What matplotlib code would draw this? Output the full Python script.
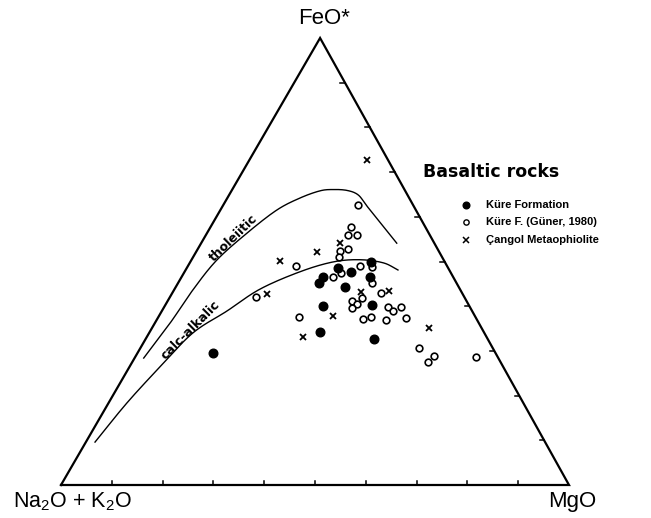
import numpy as np
import matplotlib
matplotlib.use("Agg")
import matplotlib.pyplot as plt

plt.rcParams["mathtext.fontset"] = "custom"
plt.rcParams["mathtext.rm"] = "Liberation Sans"
plt.rcParams["mathtext.it"] = "Liberation Sans"

# ---- AFM data (wt %): alkalis (Na2O+K2O), FeO*, MgO ----
kure_feo = [50.0, 48.6, 47.6, 46.6, 45.1, 46.5, 44.4, 40.0, 40.3, 34.3, 32.6, 29.6]
kure_mgo = [35.5, 29.8, 32.8, 27.9, 27.8, 37.1, 33.3, 31.2, 40.6, 33.5, 45.0, 14.9]
kure_alk = [14.5, 21.6, 19.6, 25.5, 27.1, 16.4, 22.3, 28.8, 19.1, 32.2, 22.4, 55.5]

guner_feo = [57.7, 55.9, 55.9, 52.4, 52.8, 50.9, 49.1, 49.1, 48.8, 47.4, 46.6, 45.1,
             42.0, 43.0, 41.2, 41.8, 40.4, 39.5, 39.9, 38.9, 39.9, 37.5, 37.1, 37.5,
             36.9, 37.3, 30.6, 27.6, 28.9, 28.6, 62.6]
guner_mgo = [27.6, 27.9, 29.7, 28.1, 29.6, 28.8, 21.2, 33.8, 36.4, 30.9, 29.7, 38.3,
             16.9, 41.0, 36.2, 38.0, 37.6, 37.1, 44.0, 45.5, 46.6, 27.7, 40.6, 41.9,
             45.1, 48.9, 54.9, 58.1, 58.6, 67.2, 26.6]
guner_alk = [14.7, 16.2, 14.4, 19.5, 17.6, 20.3, 29.7, 17.1, 14.8, 21.7, 23.7, 16.6,
             41.1, 16.0, 22.6, 20.2, 22.0, 23.4, 16.1, 15.6, 13.5, 34.8, 22.3, 20.6,
             18.0, 13.8, 14.5, 14.3, 12.5, 4.2, 10.8]

cangol_feo = [72.7, 50.2, 52.1, 54.2, 42.7, 43.2, 43.5, 37.7, 33.0, 35.2]
cangol_mgo = [23.2, 17.5, 23.8, 27.3, 18.8, 37.1, 42.4, 34.4, 30.9, 54.5]
cangol_alk = [4.1, 32.3, 24.1, 18.5, 38.5, 19.7, 14.1, 27.9, 36.1, 10.3]

# Boundary curves between the tholeiitic and calc-alkaline fields
thol_feo = [28.4, 36.2, 43.6, 50.3, 56.4, 61.5, 64.2, 65.8, 66.1, 65.9, 64.9, 62.4, 58.8, 54.1]
thol_mgo = [1.8, 3.0, 3.7, 5.0, 7.9, 11.1, 14.3, 17.4, 19.8, 22.7, 25.4, 28.4, 32.8, 38.5]
thol_alk = [69.8, 60.8, 52.7, 44.7, 35.7, 27.4, 21.5, 16.8, 14.1, 11.4, 9.7, 9.2, 8.4, 7.4]

calc_feo = [9.6, 18.3, 26.4, 34.0, 38.9, 43.8, 47.7, 49.9, 50.4, 49.7, 48.1]
calc_mgo = [1.8, 3.6, 6.0, 8.6, 12.8, 16.8, 22.7, 28.1, 33.1, 38.1, 41.8]
calc_alk = [88.6, 78.1, 67.6, 57.4, 48.3, 39.4, 29.6, 22.0, 16.5, 12.2, 10.1]

legend_labels = ["Küre Formation", "Küre F. (Güner, 1980)", "Çangol Metaophiolite"]
APEX_X = 0.51  # horizontal position of the FeO* apex along the base


def to_xy(alk, feo, mgo):
    a, f, m = (np.asarray(v, float) for v in (alk, feo, mgo))
    s = a + f + m
    f, m = f / s, m / s
    return m + APEX_X * f, f


def smooth(x, y, n=20):
    """Catmull-Rom spline through the given vertices."""
    p = np.column_stack([x, y])
    p = np.vstack([2 * p[0] - p[1], p, 2 * p[-1] - p[-2]])
    out = []
    t = np.linspace(0, 1, n, endpoint=False)[:, None]
    for i in range(1, len(p) - 2):
        p0, p1, p2, p3 = p[i - 1], p[i], p[i + 1], p[i + 2]
        seg = 0.5 * ((2 * p1) + (-p0 + p2) * t + (2 * p0 - 5 * p1 + 4 * p2 - p3) * t ** 2
                     + (-p0 + 3 * p1 - 3 * p2 + p3) * t ** 3)
        out.append(seg)
    out.append(p[-2][None, :])
    out = np.vstack(out)
    return out[:, 0], out[:, 1]


W, H = 651, 518
fig = plt.figure(figsize=(W / 100, H / 100), dpi=100)
ax = fig.add_axes([61 / W, 33 / H, 508 / W, 447 / H])
ax.set_xlim(0, 1)
ax.set_ylim(0, 1)
ax.axis("off")

# triangle frame
ax.plot([0, 1, APEX_X, 0], [0, 0, 1, 0], color="black", lw=1.6, clip_on=False,
        solid_joinstyle="miter")

# 10 % ticks on the base (pointing up) and on the MgO-FeO* side (pointing in)
for k in range(1, 10):
    v = k / 10
    ax.plot([v, v], [0, 0.009], color="black", lw=1.1)
    xe, ye = to_xy(0, v, 1 - v)
    ax.plot([xe, xe - 0.009], [ye, ye], color="black", lw=1.1)

# boundary curves
for f, m, a in ((thol_feo, thol_mgo, thol_alk), (calc_feo, calc_mgo, calc_alk)):
    x, y = to_xy(a, f, m)
    sx, sy = smooth(x, y)
    ax.plot(sx, sy, color="black", lw=1.0)

ax.text(0.3406, 0.5526, "tholeiitic", rotation=44, ha="center", va="center",
        fontsize=9, fontweight="bold", family="DejaVu Sans")
ax.text(0.254, 0.3468, "calc-alkalic", rotation=45, ha="center", va="center",
        fontsize=9, fontweight="bold", family="DejaVu Sans")

# data points
x, y = to_xy(guner_alk, guner_feo, guner_mgo)
ax.plot(x, y, "o", ms=4.8, mfc="white", mec="black", mew=1.2, ls="none")
x, y = to_xy(kure_alk, kure_feo, kure_mgo)
ax.plot(x, y, "o", ms=6.2, mfc="black", mec="black", ls="none")
x, y = to_xy(cangol_alk, cangol_feo, cangol_mgo)
ax.plot(x, y, "x", ms=4.8, mec="black", mew=1.3, ls="none")

# corner labels
fig.text(324 / W, 1 - 18 / H, "FeO*", ha="center", va="center", fontsize=16,
         family="Liberation Sans")
fig.text(73 / W, 1 - 502 / H, r"Na$_2$O + K$_2$O", ha="center", va="center",
         fontsize=15.5, family="Liberation Sans")
fig.text(572 / W, 1 - 502 / H, "MgO", ha="center", va="center", fontsize=16,
         family="Liberation Sans")

# legend
fig.text(423 / W, 1 - 172 / H, "Basaltic rocks", ha="left", va="center",
         fontsize=12.5, fontweight="bold", family="DejaVu Sans")
styles = [dict(marker="o", ms=4.8, mfc="black", mec="black"),
          dict(marker="o", ms=3.8, mfc="white", mec="black", mew=1.0),
          dict(marker="x", ms=3.8, mec="black", mew=1.1)]
ys = [205, 222, 240]
for lab, st, yy in zip(legend_labels, styles, ys):
    fig.add_artist(plt.Line2D([466.5 / W], [1 - yy / H], ls="none",
                              transform=fig.transFigure, **st))
    fig.text(486 / W, 1 - yy / H, lab, ha="left", va="center", fontsize=8,
             fontweight="bold", family="Liberation Sans")

fig.savefig("out.png", dpi=100)
